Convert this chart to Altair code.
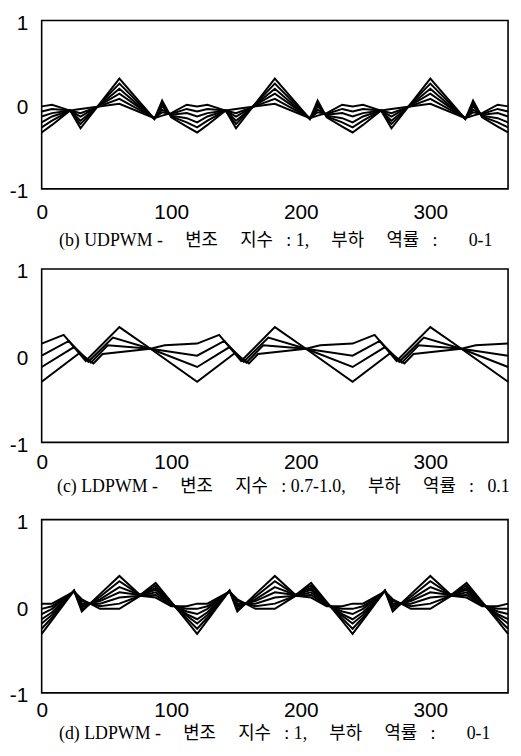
import altair as alt
import pandas as pd

# ---------------- (b) UDPWM : 6 curves, shared x breakpoints ----------------
B_X = [0, 8, 22, 30, 60, 87, 93, 100, 112,
       120, 128, 142, 150, 180, 207, 213, 220, 232,
       240, 248, 262, 270, 300, 327, 333, 340, 352, 360]
B_Y1 = [-0.02, 0.00, -0.07, -0.05, 0.01, -0.16, -0.13, -0.10, 0.00,
        -0.02, 0.00, -0.07, -0.05, 0.01, -0.16, -0.13, -0.10, 0.00,
        -0.02, 0.00, -0.07, -0.05, 0.01, -0.16, -0.13, -0.10, 0.00, -0.02]
B_Y2 = [-0.08, -0.05, -0.07, -0.10, 0.07, -0.16, -0.09, -0.11, -0.05,
        -0.08, -0.05, -0.07, -0.10, 0.07, -0.16, -0.09, -0.11, -0.05,
        -0.08, -0.05, -0.07, -0.10, 0.07, -0.16, -0.09, -0.11, -0.05, -0.08]
B_Y3 = [-0.14, -0.10, -0.07, -0.14, 0.13, -0.16, -0.06, -0.12, -0.10,
        -0.14, -0.10, -0.07, -0.14, 0.13, -0.16, -0.06, -0.12, -0.10,
        -0.14, -0.10, -0.07, -0.14, 0.13, -0.16, -0.06, -0.12, -0.10, -0.14]
B_Y4 = [-0.21, -0.14, -0.07, -0.19, 0.19, -0.17, -0.02, -0.13, -0.16,
        -0.21, -0.14, -0.07, -0.19, 0.19, -0.17, -0.02, -0.13, -0.16,
        -0.21, -0.14, -0.07, -0.19, 0.19, -0.17, -0.02, -0.13, -0.16, -0.21]
B_Y5 = [-0.27, -0.19, -0.07, -0.23, 0.25, -0.17, 0.01, -0.14, -0.21,
        -0.27, -0.19, -0.07, -0.23, 0.25, -0.17, 0.01, -0.14, -0.21,
        -0.27, -0.19, -0.07, -0.23, 0.25, -0.17, 0.01, -0.14, -0.21, -0.27]
B_Y6 = [-0.33, -0.24, -0.07, -0.28, 0.31, -0.17, 0.05, -0.15, -0.26,
        -0.33, -0.24, -0.07, -0.28, 0.31, -0.17, 0.05, -0.15, -0.26,
        -0.33, -0.24, -0.07, -0.28, 0.31, -0.17, 0.05, -0.15, -0.26, -0.33]

# ---------------- (c) LDPWM m=0.7-1.0 : 4 curves ----------------
C_XA = [0, 17, 34, 60, 84, 95, 120, 137, 154, 180, 204, 215,
        240, 257, 274, 300, 324, 335, 360]
C_YA = [0.14, 0.24, -0.06, 0.33, 0.08, 0.12, 0.14, 0.24, -0.06, 0.33, 0.08, 0.12,
        0.14, 0.24, -0.06, 0.33, 0.08, 0.12, 0.14]
C_XB = [0, 21, 36, 55, 84, 120, 141, 156, 175, 204, 240, 261, 276, 295, 324, 360]
C_YB = [0.00, 0.17, -0.07, 0.21, 0.08, 0.00, 0.17, -0.07, 0.21, 0.08,
        0.00, 0.17, -0.07, 0.21, 0.08, 0.00]
C_XC = [0, 25, 38, 51, 84, 120, 145, 158, 171, 204, 240, 265, 278, 291, 324, 360]
C_YC = [-0.13, 0.10, -0.08, 0.12, 0.08, -0.13, 0.10, -0.08, 0.12, 0.08,
        -0.13, 0.10, -0.08, 0.12, 0.08, -0.13]
C_XD = [0, 29, 40, 47, 84, 120, 149, 160, 167, 204, 240, 269, 280, 287, 324, 360]
C_YD = [-0.30, 0.03, -0.09, 0.02, 0.08, -0.30, 0.03, -0.09, 0.02, 0.08,
        -0.30, 0.03, -0.09, 0.02, 0.08, -0.30]

# ---------------- (d) LDPWM m=1 : 7 curves, shared x breakpoints ----------------
D_X = [0, 8, 25, 31, 45, 60, 76, 88, 100, 112,
       120, 128, 145, 151, 165, 180, 196, 208, 220, 232,
       240, 248, 265, 271, 285, 300, 316, 328, 340, 352, 360]
D_Y1 = [0.03, 0.03, 0.17, 0.08, -0.03, -0.03, 0.12, 0.10, 0.00, 0.00,
        0.03, 0.03, 0.17, 0.08, -0.03, -0.03, 0.12, 0.10, 0.00, 0.00,
        0.03, 0.03, 0.17, 0.08, -0.03, -0.03, 0.12, 0.10, 0.00, 0.00, 0.03]
D_Y2 = [-0.03, 0.00, 0.17, 0.06, 0.00, 0.03, 0.12, 0.13, 0.01, -0.03,
        -0.03, 0.00, 0.17, 0.06, 0.00, 0.03, 0.12, 0.13, 0.01, -0.03,
        -0.03, 0.00, 0.17, 0.06, 0.00, 0.03, 0.12, 0.13, 0.01, -0.03, -0.03]
D_Y3 = [-0.09, -0.03, 0.17, 0.03, 0.03, 0.10, 0.12, 0.16, 0.02, -0.06,
        -0.09, -0.03, 0.17, 0.03, 0.03, 0.10, 0.12, 0.16, 0.02, -0.06,
        -0.09, -0.03, 0.17, 0.03, 0.03, 0.10, 0.12, 0.16, 0.02, -0.06, -0.09]
D_Y4 = [-0.15, -0.07, 0.18, 0.01, 0.06, 0.16, 0.13, 0.19, 0.03, -0.09,
        -0.15, -0.07, 0.18, 0.01, 0.06, 0.16, 0.13, 0.19, 0.03, -0.09,
        -0.15, -0.07, 0.18, 0.01, 0.06, 0.16, 0.13, 0.19, 0.03, -0.09, -0.15]
D_Y5 = [-0.20, -0.10, 0.18, -0.01, 0.08, 0.22, 0.13, 0.21, 0.03, -0.11,
        -0.20, -0.10, 0.18, -0.01, 0.08, 0.22, 0.13, 0.21, 0.03, -0.11,
        -0.20, -0.10, 0.18, -0.01, 0.08, 0.22, 0.13, 0.21, 0.03, -0.11, -0.20]
D_Y6 = [-0.26, -0.13, 0.18, -0.04, 0.11, 0.29, 0.13, 0.24, 0.04, -0.14,
        -0.26, -0.13, 0.18, -0.04, 0.11, 0.29, 0.13, 0.24, 0.04, -0.14,
        -0.26, -0.13, 0.18, -0.04, 0.11, 0.29, 0.13, 0.24, 0.04, -0.14, -0.26]
D_Y7 = [-0.32, -0.16, 0.18, -0.06, 0.14, 0.35, 0.13, 0.27, 0.05, -0.17,
        -0.32, -0.16, 0.18, -0.06, 0.14, 0.35, 0.13, 0.27, 0.05, -0.17,
        -0.32, -0.16, 0.18, -0.06, 0.14, 0.35, 0.13, 0.27, 0.05, -0.17, -0.32]

X_TICKS = [0, 100, 200, 300]
Y_TICKS = [-1, 0, 1]

CAP_B = "(b) UDPWM - \u2003변조\u2003 지수\u2002 : 1,\u2003 부하\u2003 역률\u2002 : \u2003\u20020-1"
CAP_C = "(c) LDPWM - \u2003변조\u2003 지수\u2002 : 0.7-1.0,\u2003 부하\u2003 역률\u2002 :\u2002 0.1"
CAP_D = "(d) LDPWM - \u2003변조\u2003 지수\u2002 : 1,\u2003 부하\u2003 역률\u2002 : \u2003\u20020-1"


def to_frame(pairs):
    rows = []
    for i, (xs, ys) in enumerate(pairs):
        for x, y in zip(xs, ys):
            rows.append({"x": x, "y": y, "line": i})
    return pd.DataFrame(rows)


df_b = to_frame([(B_X, B_Y1), (B_X, B_Y2), (B_X, B_Y3), (B_X, B_Y4), (B_X, B_Y5), (B_X, B_Y6)])
df_c = to_frame([(C_XA, C_YA), (C_XB, C_YB), (C_XC, C_YC), (C_XD, C_YD)])
df_d = to_frame([(D_X, D_Y1), (D_X, D_Y2), (D_X, D_Y3), (D_X, D_Y4),
                 (D_X, D_Y5), (D_X, D_Y6), (D_X, D_Y7)])

LABEL_FONT = "Liberation Sans"
CAP_FONT = "Liberation Serif, Noto Sans CJK KR"


def panel(df, caption, height, label_pad, title_pad, title_x):
    return alt.Chart(df).mark_line(color="black", strokeWidth=2).encode(
        x=alt.X("x:Q",
                scale=alt.Scale(domain=[0, 360], nice=False, zero=False),
                axis=alt.Axis(values=X_TICKS, title=caption, grid=False, ticks=False,
                              domain=False, labelFlush=False, labelFont=LABEL_FONT,
                              labelExpr="datum.value + ''",
                              labelFontSize=21, labelColor="black", labelPadding=label_pad,
                              titleFont=CAP_FONT, titleFontSize=18, titleFontWeight="normal",
                              titleColor="black", titlePadding=title_pad,
                              titleAnchor="start", titleAlign="left", titleX=title_x)),
        y=alt.Y("y:Q",
                scale=alt.Scale(domain=[-1, 1], nice=False, zero=False),
                axis=alt.Axis(values=Y_TICKS, title=None, grid=False, ticks=False,
                              domain=False, labelFont=LABEL_FONT, labelFontSize=21,
                              labelExpr="datum.value + ''",
                              labelColor="black", labelPadding=14, labelOffset=3)),
        detail="line:N",
    ).properties(width=471, height=height)


top_two = alt.vconcat(
    panel(df_b, CAP_B, 170, 13, 9, 17),
    panel(df_c, CAP_C, 175, 9.5, 5, 15),
    spacing=10,
)

chart = alt.vconcat(
    top_two,
    panel(df_d, CAP_D, 175, 6.5, 5, 17),
    spacing=14,
).properties(
    padding={"left": 0, "top": 0, "right": 0, "bottom": 0},
    background="white",
).configure_view(
    stroke="black", strokeWidth=1.6
)

chart.save("out.html", embed_options={"renderer": "svg", "actions": False})
